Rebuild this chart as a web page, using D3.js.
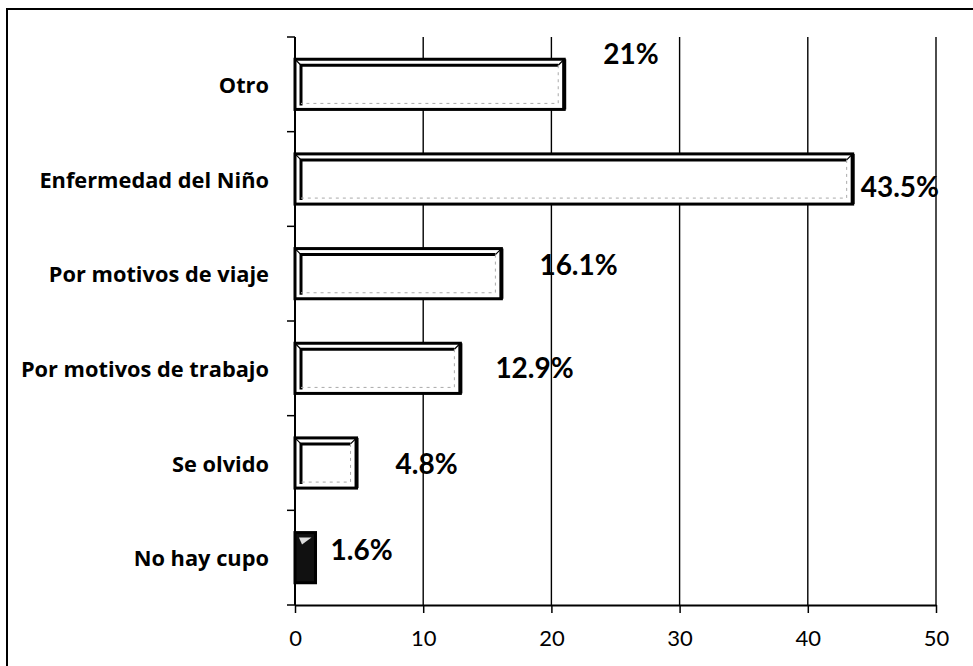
<!DOCTYPE html>
<html>
<head>
<meta charset="utf-8">
<script src="https://cdn.jsdelivr.net/npm/d3@7.9.0/dist/d3.min.js"></script>
<style>
  html, body { margin: 0; padding: 0; background: #fff; }
  svg { display: block; }
  text { font-family: Lato, "Open Sans", sans-serif; fill: #000; }
</style>
</head>
<body>
<svg id="chart" width="973" height="666"></svg>
<script>
// data
const categories = ["Otro", "Enfermedad del Niño", "Por motivos de viaje", "Por motivos de trabajo", "Se olvido", "No hay cupo"];
const values = [21, 43.5, 16.1, 12.9, 4.8, 1.6];
const xTicks = [0, 10, 20, 30, 40, 50];

// the value labels were nudged by hand in the original, so keep that nudge (px)
const labelNudge = [[39, -31], [8, 7], [38, -10], [35, -1], [39, 0], [15, -9]];

const svg = d3.select("#chart");

// outer frame (only top and left edges show in the picture)
svg.append("path")
    .attr("d", "M7,666 L7,9 L973,9")
    .attr("fill", "none")
    .attr("stroke", "#000")
    .attr("stroke-width", 2);

const plot = { left: 295, right: 936, top: 37, bottom: 605 };

const x = d3.scaleLinear().domain([0, 50]).range([plot.left, plot.right]);
const y = d3.scaleBand()
    .domain(categories)
    .range([plot.top, plot.bottom])
    .paddingInner(0.47)
    .paddingOuter(0.235);

// vertical gridlines
svg.append("g")
    .selectAll("line")
    .data(xTicks.filter(d => d > 0))
    .enter()
    .append("line")
    .attr("x1", d => x(d)).attr("x2", d => x(d))
    .attr("y1", plot.top).attr("y2", plot.bottom)
    .attr("stroke", "#000")
    .attr("stroke-width", 1.4);

// bars with the bevel look
const bars = svg.append("g")
    .selectAll("g")
    .data(categories.map((c, i) => ({ cat: c, value: values[i], nudge: labelNudge[i] })))
    .enter()
    .append("g");

const inset = 6;

bars.append("rect")
    .attr("x", x(0))
    .attr("y", d => y(d.cat))
    .attr("width", d => x(d.value) - x(0))
    .attr("height", y.bandwidth())
    .attr("fill", d => (x(d.value) - x(0)) < 25 ? "#111" : "#fff")
    .attr("stroke", "#000")
    .attr("stroke-width", 3);

// inner bevel edges: top and left dark, corner diagonal, faint right/bottom
bars.filter(d => (x(d.value) - x(0)) >= 25).each(function (d) {
    const g = d3.select(this);
    const x0 = x(0), x1 = x(d.value), y0 = y(d.cat), y1 = y0 + y.bandwidth();
    g.append("path")
        .attr("d", `M${x0 + inset},${y1 - inset + 2} L${x0 + inset},${y0 + inset} L${x1 - inset},${y0 + inset}`)
        .attr("fill", "none")
        .attr("stroke", "#000")
        .attr("stroke-width", 3);
    g.append("path")
        .attr("d", `M${x1},${y0} L${x1 - inset},${y0 + inset} M${x0},${y0} L${x0 + inset},${y0 + inset}`)
        .attr("fill", "none")
        .attr("stroke", "#000")
        .attr("stroke-width", 1.2);
    g.append("path")
        .attr("d", `M${x1 - inset},${y0 + inset} L${x1 - inset},${y1 - inset} L${x0 + inset},${y1 - inset}`)
        .attr("fill", "none")
        .attr("stroke", "#aaa")
        .attr("stroke-width", 1)
        .attr("stroke-dasharray", "3,4");
    // heavier right edge
    g.append("line")
        .attr("x1", x1).attr("x2", x1)
        .attr("y1", y0).attr("y2", y1)
        .attr("stroke", "#000")
        .attr("stroke-width", 4);
});

// tiny light triangle inside the narrow dark bar
bars.filter(d => (x(d.value) - x(0)) < 25).append("path")
    .attr("d", d => `M${x(0) + 4},${y(d.cat) + 5} L${x(d.value) - 4},${y(d.cat) + 5} L${x(0) + 7},${y(d.cat) + 12} Z`)
    .attr("fill", "#ddd");

// value labels
bars.append("text")
    .attr("x", d => x(d.value) + d.nudge[0])
    .attr("y", d => y(d.cat) + y.bandwidth() / 2 + d.nudge[1])
    .attr("dominant-baseline", "central")
    .attr("font-size", 28)
    .attr("font-weight", "bold")
    .text(d => d.value + "%");

// y axis: line with ticks on the band edges
const yAxis = svg.append("g");
yAxis.append("line")
    .attr("x1", plot.left).attr("x2", plot.left)
    .attr("y1", plot.top).attr("y2", plot.bottom)
    .attr("stroke", "#000")
    .attr("stroke-width", 2);
yAxis.selectAll(".tick")
    .data(d3.range(categories.length + 1))
    .enter()
    .append("line")
    .attr("x1", plot.left - 8).attr("x2", plot.left)
    .attr("y1", i => plot.top + i * y.step())
    .attr("y2", i => plot.top + i * y.step())
    .attr("stroke", "#000")
    .attr("stroke-width", 1.5);

svg.append("g")
    .selectAll("text")
    .data(categories)
    .enter()
    .append("text")
    .attr("x", 269)
    .attr("y", d => y(d) + y.bandwidth() / 2)
    .attr("text-anchor", "end")
    .attr("dominant-baseline", "central")
    .style("font-family", "'Open Sans', Lato, sans-serif")
    .attr("font-size", 21.8)
    .attr("font-weight", "bold")
    .text(d => d);

// x axis
const xAxis = svg.append("g")
    .attr("transform", `translate(0,${plot.bottom})`)
    .call(d3.axisBottom(x).tickValues(xTicks).tickSize(8).tickSizeOuter(0).tickPadding(17));
xAxis.select(".domain").attr("stroke", "#000").attr("stroke-width", 2);
xAxis.selectAll(".tick line").attr("stroke", "#000").attr("stroke-width", 1.5);
xAxis.selectAll(".tick text")
    .attr("font-family", "Lato, 'Open Sans', sans-serif")
    .attr("font-size", 22)
    .attr("fill", "#000");
</script>
</body>
</html>
